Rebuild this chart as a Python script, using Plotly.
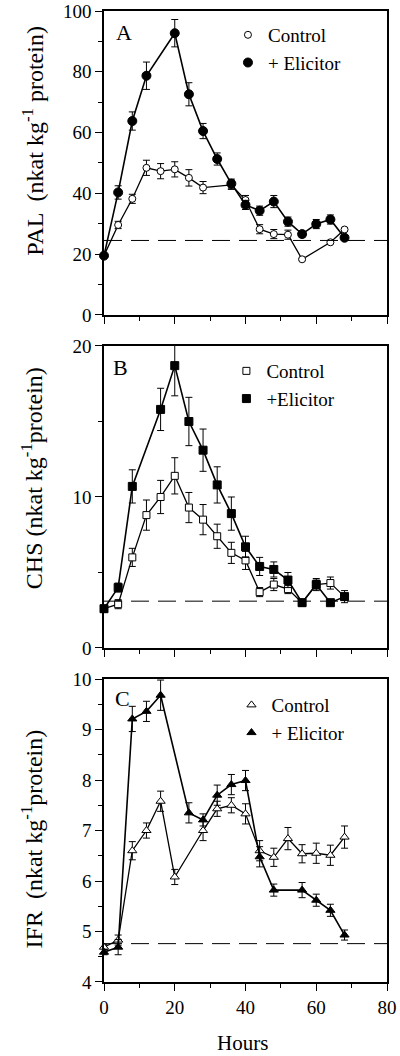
import plotly.graph_objects as go
from plotly.subplots import make_subplots

# ---------------- data ----------------
pal_ctrl_x = [0, 4, 8, 12, 16, 20, 24, 28, 36, 40, 44, 48, 52, 56, 64, 68]
pal_ctrl_y = [19.5, 29.6, 38.2, 48.4, 47.3, 47.9, 45.1, 41.9, 42.8, 37.8, 28.2, 26.6, 26.4, 18.3, 23.9, 28.1]
pal_ctrl_e = [0.5, 1.2, 1.5, 2.5, 2.5, 2.5, 2.7, 2.0, 1.5, 1.5, 1.5, 1.5, 1.5, 0.3, 0.3, 0.5]
pal_elic_x = [0, 4, 8, 12, 20, 24, 28, 32, 36, 40, 44, 48, 52, 56, 60, 64, 68]
pal_elic_y = [19.5, 40.3, 63.8, 78.7, 92.7, 72.6, 60.5, 51.3, 43.2, 36.2, 34.3, 37.3, 30.7, 26.6, 29.9, 31.4, 25.4]
pal_elic_e = [0.5, 2.2, 3.0, 4.5, 4.5, 3.8, 2.5, 2.0, 1.5, 1.5, 1.5, 2.0, 1.5, 1.0, 1.5, 1.5, 0.5]
pal_base = 24.5

chs_ctrl_x = [0, 4, 8, 12, 16, 20, 24, 28, 32, 36, 40, 44, 48, 52, 56, 60, 64, 68]
chs_ctrl_y = [2.6, 2.9, 6.0, 8.8, 10.0, 11.4, 9.3, 8.5, 7.4, 6.3, 5.8, 3.7, 4.2, 3.9, 3.0, 4.2, 4.3, 3.4]
chs_ctrl_e = [0.1, 0.3, 0.6, 1.0, 1.1, 1.2, 1.0, 1.0, 0.8, 0.7, 0.6, 0.3, 0.4, 0.3, 0.2, 0.3, 0.4, 0.4]
chs_elic_x = [0, 4, 8, 16, 20, 24, 28, 32, 36, 40, 44, 48, 52, 56, 60, 64, 68]
chs_elic_y = [2.6, 4.0, 10.7, 15.8, 18.7, 15.0, 13.1, 10.8, 8.9, 6.7, 5.4, 5.2, 4.5, 3.0, 4.2, 3.0, 3.4]
chs_elic_e = [0.1, 0.3, 1.1, 1.4, 2.0, 1.6, 1.4, 1.2, 1.1, 0.7, 0.6, 0.5, 0.5, 0.2, 0.4, 0.2, 0.2]
chs_base = 3.1

ifr_ctrl_x = [0, 4, 8, 12, 16, 20, 28, 32, 36, 40, 44, 48, 52, 56, 60, 64, 68]
ifr_ctrl_y = [4.69, 4.83, 6.6, 7.0, 7.58, 6.08, 7.0, 7.43, 7.5, 7.33, 6.6, 6.47, 6.84, 6.54, 6.55, 6.51, 6.87]
ifr_ctrl_e = [0.05, 0.1, 0.18, 0.15, 0.2, 0.15, 0.2, 0.15, 0.15, 0.2, 0.2, 0.18, 0.22, 0.18, 0.2, 0.2, 0.22]
ifr_elic_x = [0, 4, 8, 12, 16, 24, 28, 32, 36, 40, 44, 48, 56, 60, 64, 68]
ifr_elic_y = [4.59, 4.69, 9.21, 9.36, 9.68, 7.35, 7.21, 7.7, 7.91, 7.99, 6.48, 5.82, 5.82, 5.62, 5.42, 4.93]
ifr_elic_e = [0.05, 0.15, 0.25, 0.2, 0.3, 0.2, 0.12, 0.2, 0.2, 0.2, 0.2, 0.12, 0.15, 0.12, 0.12, 0.1]
ifr_base = 4.76

x_ticks = [0, 20, 40, 60, 80]
pal_ticks = [0, 20, 40, 60, 80, 100]
chs_ticks = [0, 10, 20]
ifr_ticks = [4, 5, 6, 7, 8, 9, 10]

FONT = "Liberation Serif"

fig = make_subplots(rows=3, cols=1)

panels = [
    (1, "circle", pal_ctrl_x, pal_ctrl_y, pal_ctrl_e, pal_elic_x, pal_elic_y, pal_elic_e,
     "Control", "+ Elicitor", "legend", 7, 9),
    (2, "square", chs_ctrl_x, chs_ctrl_y, chs_ctrl_e, chs_elic_x, chs_elic_y, chs_elic_e,
     "Control", "+Elicitor", "legend2", 7, 8),
    (3, "triangle-up", ifr_ctrl_x, ifr_ctrl_y, ifr_ctrl_e, ifr_elic_x, ifr_elic_y, ifr_elic_e,
     "Control", "+ Elicitor", "legend3", 8, 8),
]

for row, sym, cx, cy, ce, ex, ey, ee, cname, ename, leg, cs, es in panels:
    fig.add_trace(go.Scatter(
        x=cx, y=cy, mode="lines+markers", showlegend=False, cliponaxis=False,
        line=dict(color="black", width=1.3),
        marker=dict(symbol=sym, size=cs, color="white", line=dict(color="black", width=1)),
        error_y=dict(type="data", array=ce, color="black", thickness=1, width=3.5),
    ), row=row, col=1)
    fig.add_trace(go.Scatter(
        x=ex, y=ey, mode="lines+markers", showlegend=False, cliponaxis=False,
        line=dict(color="black", width=1.6),
        marker=dict(symbol=sym, size=es, color="black", line=dict(color="black", width=1)),
        error_y=dict(type="data", array=ee, color="black", thickness=1, width=3.5),
    ), row=row, col=1)
    # legend entries (markers only)
    fig.add_trace(go.Scatter(
        x=[None], y=[None], mode="markers", name=cname, legend=leg,
        marker=dict(symbol=sym, size=cs, color="white", line=dict(color="black", width=1)),
    ), row=row, col=1)
    fig.add_trace(go.Scatter(
        x=[None], y=[None], mode="markers", name=ename, legend=leg,
        marker=dict(symbol=sym, size=es, color="black", line=dict(color="black", width=1)),
    ), row=row, col=1)

# domains (pixel-matched)
doms = [[0.687, 1.0], [0.344, 0.655], [0.0, 0.312]]
yranges = [[0, 100], [0, 20], [4, 10]]
yticks = [pal_ticks, chs_ticks, ifr_ticks]
yminor = [10, 5, 0.5]
bases = [pal_base, chs_base, ifr_base]

for i in range(3):
    r = i + 1
    fig.update_xaxes(
        row=r, col=1, range=[0, 80], tickvals=x_ticks, showticklabels=(r == 3),
        ticks="outside", ticklen=7, tickwidth=1.3, tickcolor="black",
        minor=dict(dtick=10, ticks="outside", ticklen=4, tickcolor="black", tickwidth=1),
        showline=True, linecolor="black", linewidth=1.5, mirror=True,
        showgrid=False, zeroline=False, automargin=False, ticklabeloverflow="allow",
        tickfont=dict(family=FONT, size=19, color="black"),
    )
    fig.update_yaxes(
        row=r, col=1, range=yranges[i], domain=doms[i], tickvals=yticks[i],
        ticks="outside", ticklen=7, tickwidth=1.3, tickcolor="black",
        minor=dict(dtick=yminor[i], ticks="outside", ticklen=4, tickcolor="black", tickwidth=1),
        showline=True, linecolor="black", linewidth=1.5, mirror=True,
        showgrid=False, zeroline=False, automargin=False, ticklabeloverflow="allow",
        tickfont=dict(family=FONT, size=19, color="black"),
    )
    xr = "x" if r == 1 else f"x{r}"
    yr = "y" if r == 1 else f"y{r}"
    fig.add_shape(type="line", xref=xr, yref=yr, x0=0, x1=80, y0=bases[i], y1=bases[i],
                  line=dict(color="black", width=1, dash="18px,9px"))

ann_font = dict(family=FONT, size=24, color="black")
titles = [
    ("PAL  (nkat kg<sup>-1</sup> protein)", 0.8666),
    ("CHS (nkat kg<sup>-1</sup>protein)", 0.519),
    ("IFR  (nkat kg<sup>-1</sup>protein)", 0.147),
]
for txt, yy in titles:
    fig.add_annotation(text=txt, x=-0.254, y=yy, xref="paper", yref="paper",
                       textangle=-90, showarrow=False, font=ann_font,
                       xanchor="center", yanchor="middle")

fig.add_annotation(text="Hours", x=0.488, y=-0.0628, xref="paper", yref="paper",
                   showarrow=False, font=dict(family=FONT, size=21, color="black"),
                   xanchor="center", yanchor="middle")

for lab, xx, yy in [("A", 0.0707, 0.978), ("B", 0.057, 0.633), ("C", 0.064, 0.292)]:
    fig.add_annotation(text=lab, x=xx, y=yy, xref="paper", yref="paper", showarrow=False,
                       font=dict(family=FONT, size=22, color="black"),
                       xanchor="center", yanchor="middle")

leg_common = dict(xanchor="left", yanchor="top", bgcolor="rgba(0,0,0,0)",
                  font=dict(family=FONT, size=19, color="black"), itemwidth=30,
                  tracegroupgap=0)
fig.update_layout(
    width=400, height=1056,
    margin=dict(l=104, r=13, t=11, b=74, autoexpand=False),
    paper_bgcolor="white", plot_bgcolor="white",
    legend=dict(x=0.438, y=0.9949, **leg_common),
    legend2=dict(x=0.4325, y=0.6488, **leg_common),
    legend3=dict(x=0.4505, y=0.3048, **leg_common),
)

fig.write_html(
    "out.html",
    config={"displayModeBar": False},
    post_script="document.documentElement.style.margin='0';document.body.style.margin='0';"
                "document.body.style.overflow='hidden';",
)
